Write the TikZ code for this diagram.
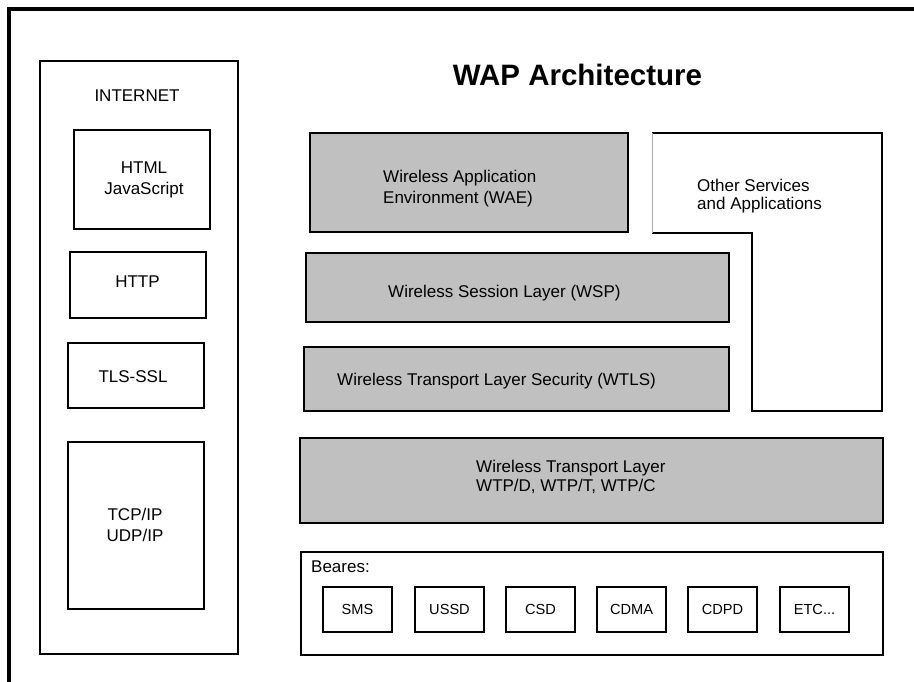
\documentclass[tikz,border=0pt]{standalone}
\usepackage{fontspec}
\setmainfont{Liberation Sans}
\definecolor{layergray}{RGB}{192,192,192}
\definecolor{edgegray}{RGB}{170,170,170}
\begin{document}
\begin{tikzpicture}[x=1pt,y=-1pt,
  box/.style={draw=black, line width=1.3pt, inner sep=0pt, fill=white},
  layer/.style={box, fill=layergray},
  bearerbox/.style={box, minimum width=69pt, minimum height=45pt},
  txt/.style={font=\fontsize{17}{20.5}\selectfont, inner sep=0pt, text=black},
  smalltxt/.style={font=\fontsize{14.6}{17}\selectfont, inner sep=0pt, text=black},
  titletxt/.style={font=\fontsize{29.5}{33}\selectfont\bfseries, inner sep=0pt, text=black},
  frame/.style={line width=4pt, line join=miter}
]
\useasboundingbox (0,0) rectangle (914,681);

% outer frame (top and left edges)
\coordinate (fbl) at (9,683);
\coordinate (ftl) at (9,9);
\coordinate (ftr) at (916,9);
\draw[frame] (fbl) -- (ftl) -- (ftr);

% title
\node[titletxt, anchor=base] (title) at (577.5,85.5) {WAP Architecture};

% INTERNET column
\node[box, minimum width=198pt, minimum height=593pt] (internet) at (139,357.5) {};
\node[txt, anchor=base] (internetlbl) at (137,101) {INTERNET};
\node[box, minimum width=136pt, minimum height=99pt] (html) at (142,179.5) {};
\node[txt, anchor=base, align=center, font=\fontsize{17}{21}\selectfont] (htmllbl) at (144,194) {HTML\\JavaScript};
\node[box, minimum width=136pt, minimum height=66pt] (http) at (138,285) {};
\node[txt, anchor=base] (httplbl) at (137.5,287) {HTTP};
\node[box, minimum width=136pt, minimum height=65pt] (tls) at (136,375.5) {};
\node[txt, anchor=base] (tlslbl) at (133,382) {TLS-SSL};
\node[box, minimum width=136pt, minimum height=167pt] (tcp) at (136,525.5) {};
\node[txt, anchor=base, align=center] (tcplbl) at (135,541) {TCP/IP\\UDP/IP};

% WAP layers
\node[layer, minimum width=318pt, minimum height=99pt] (wae) at (469,182.5) {};
\node[txt, anchor=base west, align=left] (waelbl) at (383,203) {Wireless Application\\Environment (WAE)};
\node[layer, minimum width=423pt, minimum height=69pt] (wsp) at (517.5,287.5) {};
\node[txt, anchor=base west] (wsplbl) at (388,297) {Wireless Session Layer (WSP)};
\node[layer, minimum width=425pt, minimum height=64pt] (wtls) at (516.5,379) {};
\node[txt, anchor=base west] (wtlslbl) at (337,385) {Wireless Transport Layer Security (WTLS)};
\node[layer, minimum width=583pt, minimum height=85pt] (wtl) at (591.5,480.5) {};
\node[txt, anchor=base west, align=left, font=\fontsize{17}{19}\selectfont] (wtllbl) at (476,491) {Wireless Transport Layer\\WTP/D, WTP/T, WTP/C};

% Other services (L-shaped)
\coordinate (o1) at (652,133);
\coordinate (o2) at (882,133);
\coordinate (o3) at (882,411);
\coordinate (o4) at (752,411);
\coordinate (o5) at (752,233);
\coordinate (o6) at (652,233);
\draw[line width=1.3pt, line join=miter] (o6) -- (o5) -- (o4) -- (o3) -- (o2) -- (o1);
\draw[edgegray, line width=0.8pt] (o1) -- (o6);
\node[txt, anchor=base west, align=left, font=\fontsize{17}{18.5}\selectfont] (otherlbl) at (697,209.5) {Other Services\\and Applications};

% Bearers
\node[box, minimum width=582pt, minimum height=103pt] (beares) at (592,603.5) {};
\node[txt, anchor=base west] (bearerslbl) at (311,572) {Beares:};
\node[bearerbox] (sms) at (357.5,609.5) {};
\node[smalltxt, anchor=base] (smslbl) at (357.5,614.8) {SMS};
\node[bearerbox] (ussd) at (449.5,609.5) {};
\node[smalltxt, anchor=base] (ussdlbl) at (449.5,614.8) {USSD};
\node[bearerbox] (csd) at (540.5,609.5) {};
\node[smalltxt, anchor=base] (csdlbl) at (540.5,614.8) {CSD};
\node[bearerbox] (cdma) at (631.5,609.5) {};
\node[smalltxt, anchor=base] (cdmalbl) at (631.5,614.8) {CDMA};
\node[bearerbox] (cdpd) at (722.5,609.5) {};
\node[smalltxt, anchor=base] (cdpdlbl) at (722.5,614.8) {CDPD};
\node[bearerbox] (etc) at (814.5,609.5) {};
\node[smalltxt, anchor=base] (etclbl) at (814.5,614.8) {ETC...};
\end{tikzpicture}
\end{document}
